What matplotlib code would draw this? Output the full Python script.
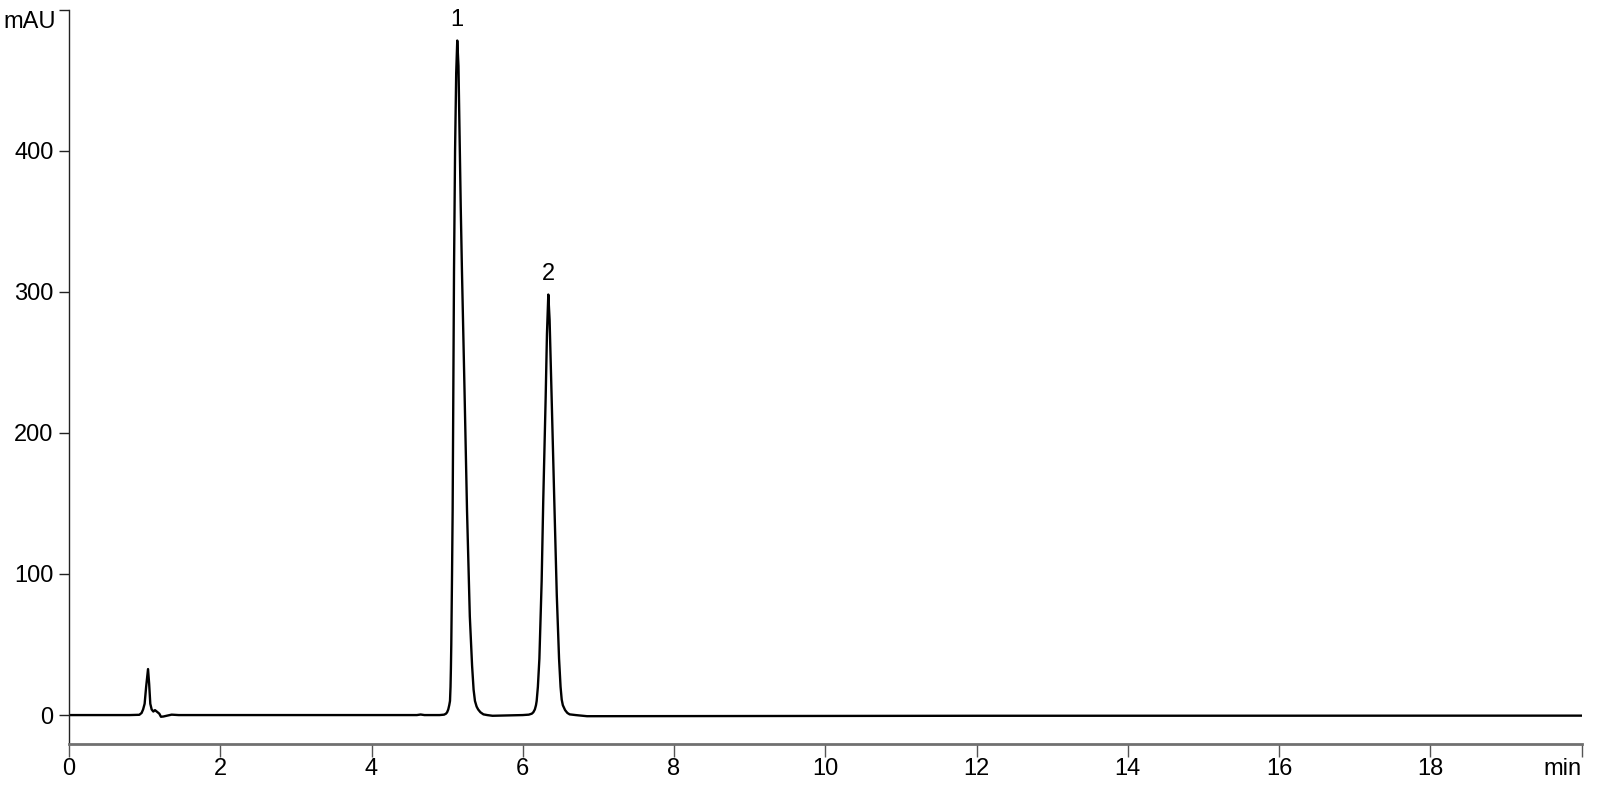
import matplotlib
matplotlib.use("Agg")
import matplotlib.pyplot as plt

plt.rcParams['font.family'] = ['Liberation Sans', 'DejaVu Sans']

# Chromatogram trace (time in min, signal in mAU)
time_min = [
    0.00, 0.80, 0.93, 0.96, 0.98, 1.00, 1.02, 1.045, 1.06, 1.075, 1.093, 1.115,
    1.137, 1.16, 1.194, 1.216, 1.25, 1.29, 1.357, 1.45,
    4.60, 4.65, 4.70, 4.90, 4.96, 4.985, 5.00, 5.015, 5.028, 5.038, 5.045, 5.05,
    5.055, 5.065, 5.073, 5.082, 5.091, 5.105, 5.12, 5.134, 5.15, 5.165, 5.18,
    5.196, 5.23, 5.263, 5.30, 5.33, 5.35, 5.368, 5.39, 5.41, 5.44, 5.48, 5.53,
    5.60,
    6.00, 6.08, 6.12, 6.14, 6.16, 6.175, 6.184, 6.20, 6.22, 6.25, 6.271, 6.303,
    6.32, 6.338, 6.355, 6.382, 6.417, 6.45, 6.48, 6.50, 6.515, 6.53, 6.56, 6.59,
    6.62, 6.70, 6.85, 12.0, 20.0,
]
signal_mau = [
    0.0, 0.0, 0.2, 1.5, 4.0, 8.0, 20.0, 32.6, 22.0, 8.0, 4.0, 2.5,
    3.5, 2.5, 1.0, -1.2, -1.0, -0.5, 0.3, 0.0,
    0.0, 0.4, 0.0, 0.0, 0.3, 1.0, 2.0, 4.0, 7.0, 10.0, 20.0, 33.0,
    50.0, 100.0, 145.0, 230.0, 315.0, 400.0, 455.0, 478.0, 460.0, 410.0, 360.0,
    315.0, 230.0, 145.0, 70.0, 35.0, 18.0, 10.0, 6.0, 4.0, 2.0, 0.5, 0.0,
    -0.5,
    0.0, 0.3, 1.0, 2.0, 4.0, 7.0, 10.0, 20.0, 40.0, 95.0, 152.0, 225.0,
    270.0, 298.0, 280.0, 225.0, 152.0, 85.0, 40.0, 20.0, 11.0, 7.0, 3.5, 1.5,
    0.5, 0.0, -0.8, -0.5, -0.4,
]

peak_labels = ["1", "2"]
peak_times = [5.134, 6.338]
peak_heights = [478.0, 298.0]

x_ticks = [0, 2, 4, 6, 8, 10, 12, 14, 16, 18, 20]
x_tick_labels = ["0", "2", "4", "6", "8", "10", "12", "14", "16", "18", "min"]
y_ticks = [0, 100, 200, 300, 400, 500]
y_tick_labels = ["0", "100", "200", "300", "400", ""]

fig = plt.figure(figsize=(16, 8), dpi=100)
ax = fig.add_axes([69 / 1600, 1 - 744 / 800, (1581.5 - 69) / 1600, (744 - 9.5) / 800])

ax.plot(time_min, signal_mau, color="black", linewidth=1.7, solid_joinstyle="round")

ax.set_xlim(0, 20)
ax.set_ylim(-20.5, 500)

ax.set_xticks(x_ticks)
ax.set_xticklabels(x_tick_labels, fontsize=17)
ax.set_yticks(y_ticks)
ax.set_yticklabels(y_tick_labels, fontsize=17)

# "min" right-aligned to its tick
for lbl in ax.get_xticklabels():
    if lbl.get_text() == "min":
        lbl.set_horizontalalignment("right")

ax.text(-0.17, 499, "mAU", ha="right", va="top", fontsize=17,
        transform=ax.transData)

ax.tick_params(axis="x", direction="out", length=9, width=1, color="#555555", pad=1)
ax.tick_params(axis="y", direction="out", length=7, width=1, color="#222222", pad=4)

for s in ["top", "right"]:
    ax.spines[s].set_visible(False)
ax.spines["bottom"].set_color("#707070")
ax.spines["bottom"].set_linewidth(2.0)
ax.spines["left"].set_color("#222222")
ax.spines["left"].set_linewidth(1.0)

for lab, t, h in zip(peak_labels, peak_times, peak_heights):
    ax.annotate(lab, xy=(t, h), xytext=(0, 7), textcoords="offset points",
                ha="center", va="bottom", fontsize=17)

fig.savefig("out.png", dpi=100)
